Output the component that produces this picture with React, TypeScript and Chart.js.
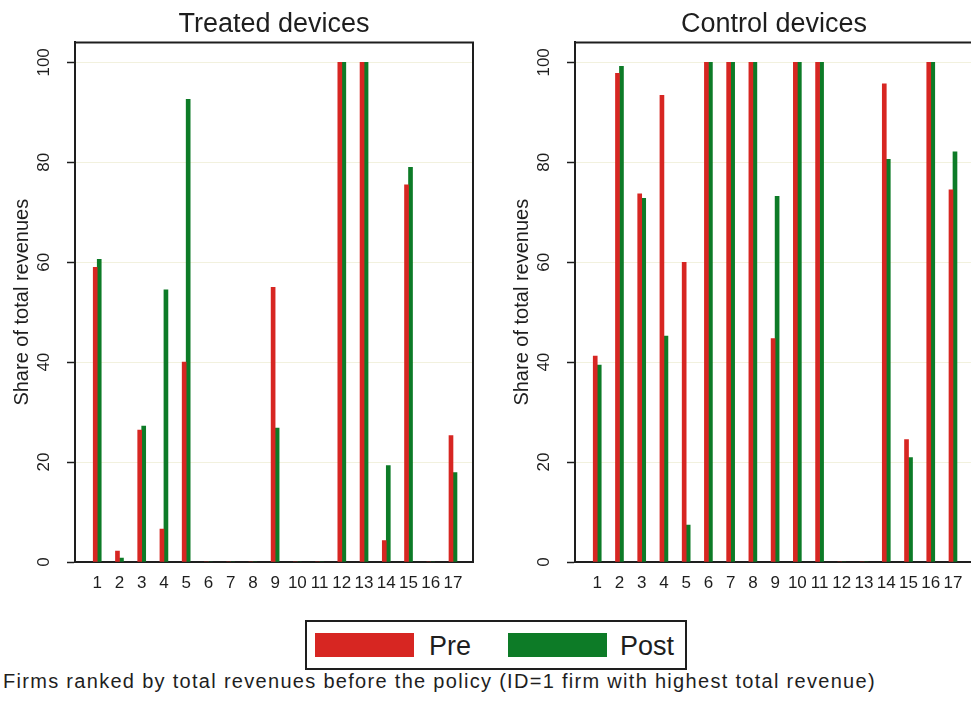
import React, { useEffect, useRef } from "react";
import { Chart, registerables } from "chart.js";

Chart.register(...registerables);

const FONT = "'Liberation Sans', Arial, Helvetica, sans-serif";
Chart.defaults.font.family = FONT;

// Firm IDs (x categories)
const firmIds = [1, 2, 3, 4, 5, 6, 7, 8, 9, 10, 11, 12, 13, 14, 15, 16, 17];
// Treated devices
const treatedPre = [59.0, 2.2, 26.4, 6.6, 40.0, 0, 0, 0, 55.0, 0, 0, 100, 100, 4.3, 75.5, 0, 25.3];
const treatedPost = [60.6, 0.8, 27.2, 54.5, 92.6, 0, 0, 0, 26.8, 0, 0, 100, 100, 19.3, 79.0, 0, 17.9];
// Control devices
const controlPre = [41.2, 97.8, 73.7, 93.4, 60.0, 100, 100, 100, 44.7, 100, 100, 0, 0, 95.7, 24.5, 100, 74.5];
const controlPost = [39.4, 99.2, 72.8, 45.2, 7.4, 100, 100, 100, 73.2, 100, 100, 0, 0, 80.6, 20.9, 100, 82.1];
// Y ticks
const yTickValues = [0, 20, 40, 60, 80, 100];

const seriesNames = ["Pre", "Post"];
const RED = "#d72622";
const GREEN = "#0d7b27";
const INK = "#1e1e1e";

const framePlugin = {
  id: "frameBox",
  afterDraw(chart: any) {
    const { ctx, chartArea } = chart;
    const { left, top, right, bottom } = chartArea;
    ctx.save();
    ctx.strokeStyle = INK;
    ctx.lineWidth = 2;
    ctx.beginPath();
    ctx.moveTo(left, bottom);
    ctx.lineTo(left, top);
    ctx.lineTo(right, top);
    ctx.lineTo(right, bottom);
    ctx.stroke();
    ctx.restore();
  },
};

function Panel(props: { title: string; pre: number[]; post: number[]; left: number }) {
  const ref = useRef<HTMLCanvasElement | null>(null);
  useEffect(() => {
    if (!ref.current) return;
    const chart = new Chart(ref.current, {
      type: "bar",
      data: {
        datasets: [
          {
            label: seriesNames[0],
            data: firmIds.map((id, i) => ({ x: id, y: props.pre[i] })),
            backgroundColor: RED,
            barThickness: 4,
          },
          {
            label: seriesNames[1],
            data: firmIds.map((id, i) => ({ x: id, y: props.post[i] })),
            backgroundColor: GREEN,
            barThickness: 4,
          },
        ],
      },
      options: {
        responsive: false,
        animation: false,
        layout: { padding: { left: 0, right: 17, top: 0, bottom: 0 } },
        plugins: {
          legend: { display: false },
          tooltip: { enabled: false },
          title: {
            display: true,
            text: props.title,
            fullSize: false,
            color: INK,
            font: { size: 27, weight: "normal", family: FONT },
            padding: { top: 8, bottom: 2 },
          },
        },
        scales: {
          x: {
            type: "linear",
            min: 0,
            max: 17.9,
            offset: false,
            afterBuildTicks: (scale: any) => {
              scale.ticks = firmIds.map((v) => ({ value: v }));
            },
            afterFit: (scale: any) => {
              scale.height = 38;
            },
            grid: { display: false, offset: false },
            border: { display: true, color: INK, width: 2 },
            ticks: {
              autoSkip: false,
              maxRotation: 0,
              minRotation: 0,
              padding: 3,
              color: INK,
              font: { size: 17, family: FONT },
              callback: (v: any) => String(v),
            },
          },
          y: {
            min: 0,
            max: 104,
            afterBuildTicks: (scale: any) => {
              scale.ticks = yTickValues.map((v) => ({ value: v }));
            },
            afterFit: (scale: any) => {
              scale.width = 75;
            },
            grid: {
              color: "rgba(230,228,190,0.5)",
              tickColor: INK,
              tickLength: 8,
              tickWidth: 1.5,
            },
            border: { display: true, color: INK, width: 2 },
            ticks: {
              minRotation: 90,
              maxRotation: 90,
              crossAlign: "center",
              padding: 9,
              color: INK,
              font: { size: 17, family: FONT },
              callback: (v: any) => String(v),
            },
            title: {
              display: true,
              text: "Share of total revenues",
              color: INK,
              font: { size: 20, family: FONT },
              padding: { top: 10, bottom: 0 },
            },
          },
        },
      },
      plugins: [framePlugin],
    } as any);
    return () => chart.destroy();
  }, []);
  return (
    <canvas
      ref={ref}
      width={490}
      height={600}
      style={{ position: "absolute", left: props.left, top: 0, width: 490, height: 600 }}
    />
  );
}

export default function App() {
  return (
    <div
      style={{
        position: "fixed",
        left: 0,
        top: 0,
        width: 971,
        height: 703,
        overflow: "hidden",
        background: "#fff",
        fontFamily: FONT,
        color: INK,
      }}
    >
      <Panel title="Treated devices" pre={treatedPre} post={treatedPost} left={0} />
      <Panel title="Control devices" pre={controlPre} post={controlPost} left={500} />
      <div
        style={{
          position: "absolute",
          left: 305,
          top: 620,
          width: 382,
          height: 50,
          border: `2px solid ${INK}`,
          boxSizing: "border-box",
        }}
      />
      <div style={{ position: "absolute", left: 315, top: 633, width: 99, height: 24, background: RED }} />
      <div style={{ position: "absolute", left: 429, top: 633, fontSize: 27, lineHeight: "27px", whiteSpace: "nowrap" }}>
        {seriesNames[0]}
      </div>
      <div style={{ position: "absolute", left: 508, top: 633, width: 99, height: 24, background: GREEN }} />
      <div style={{ position: "absolute", left: 620, top: 633, fontSize: 27, lineHeight: "27px", whiteSpace: "nowrap" }}>
        {seriesNames[1]}
      </div>
      <div
        style={{
          position: "absolute",
          left: 3,
          top: 671,
          fontSize: 20,
          lineHeight: "20px",
          letterSpacing: "1.3px",
          whiteSpace: "nowrap",
        }}
      >
        Firms ranked by total revenues before the policy (ID=1 firm with highest total revenue)
      </div>
    </div>
  );
}
